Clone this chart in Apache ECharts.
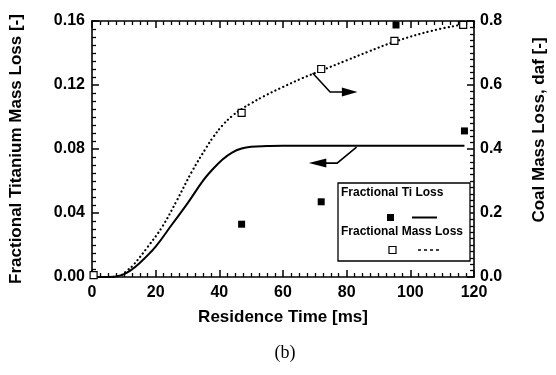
<!DOCTYPE html>
<html><head><meta charset="utf-8">
<script src="https://cdn.jsdelivr.net/npm/echarts@6/dist/echarts.min.js"></script>
<style>html,body{margin:0;padding:0;background:#fff}#c{width:556px;height:375px}</style>
</head><body><div id="c"></div>
<script>
// ---- data ----
const modelTime = [0, 5, 9, 12, 15, 20, 25, 30, 35, 38, 41, 44, 47, 50, 55, 60, 80, 100, 117];
const tiModel   = [0, 0, 0.001, 0.004, 0.0088, 0.019, 0.0325, 0.046, 0.0605, 0.0675, 0.0735, 0.0778, 0.0803, 0.0814, 0.0818, 0.082, 0.082, 0.082, 0.082];
const massTime  = [0, 5, 9, 11, 13, 17.5, 22, 26.7, 31.3, 36, 38, 41, 44, 47, 50, 54, 60, 66, 72, 80, 86.5, 95, 107, 117];
const massModel = [0, 0, 0.005, 0.02, 0.0375, 0.094, 0.156, 0.24, 0.328, 0.406, 0.436, 0.474, 0.503, 0.525, 0.543, 0.565, 0.594, 0.621, 0.645, 0.677, 0.703, 0.735, 0.77, 0.79];
const tiExpTime   = [47, 72, 95.5, 117];
const tiExp       = [0.033, 0.047, 0.1575, 0.0913];
const massExpTime = [0.5, 47, 72, 95, 116.6];
const massExp     = [0.006, 0.513, 0.65, 0.738, 0.788];
const xTicks = [0, 20, 40, 60, 80, 100, 120];
const leftTicks = [0, 0.04, 0.08, 0.12, 0.16];
const rightTicks = [0, 0.2, 0.4, 0.6, 0.8];
// annotation arrows (data units: time, left axis value)
const arrowMass = [[69.3, 0.1275], [74.8, 0.1156], [78.8, 0.1156]];
const arrowMassTip = [83.4, 0.1156];
const arrowTi = [[83.1, 0.0812], [77.0, 0.0712], [73.3, 0.0712]];
const arrowTiTip = [68.1, 0.0712];

const zip = (a, b) => a.map((v, i) => [v, b[i]]);
const FONT = '"Liberation Sans", Arial, sans-serif';
const chart = echarts.init(document.getElementById('c'), null, {renderer: 'canvas'});
const axisLine = {show: true, onZero: false, lineStyle: {color: '#000', width: 1.6}};
const tickLab = {color: '#000', fontFamily: FONT, fontWeight: 'bold', fontSize: 16};
const titleSt = {color: '#000', fontFamily: FONT, fontWeight: 'bold', fontSize: 17};
const majTick = {inside: true, length: 7, lineStyle: {color: '#000', width: 1.5}};
const minTick = n => ({show: true, splitNumber: n, length: 4, lineStyle: {color: '#000', width: 1.3}});

chart.setOption({
  animation: false,
  grid: {left: 91, right: 74, top: 21, bottom: 98},
  xAxis: [{
    type: 'value', min: xTicks[0], max: xTicks[xTicks.length - 1], interval: 20,
    name: 'Residence Time [ms]', nameLocation: 'middle', nameGap: 32, nameTextStyle: titleSt,
    axisLine: axisLine, axisTick: majTick, minorTick: minTick(8),
    axisLabel: Object.assign({margin: 8}, tickLab),
    splitLine: {show: false}
  }, {
    type: 'value', position: 'top', min: xTicks[0], max: xTicks[xTicks.length - 1], interval: 20,
    axisLine: axisLine, axisTick: majTick, minorTick: minTick(8),
    axisLabel: {show: false}, splitLine: {show: false}
  }],
  yAxis: [{
    type: 'value', min: leftTicks[0], max: leftTicks[leftTicks.length - 1], interval: 0.04,
    name: 'Fractional Titanium Mass Loss [-]', nameLocation: 'middle', nameGap: 67, nameRotate: 90,
    nameTextStyle: titleSt,
    axisLine: axisLine, axisTick: majTick, minorTick: minTick(8),
    axisLabel: Object.assign({margin: 7, formatter: v => v.toFixed(2)}, tickLab),
    splitLine: {show: false}
  }, {
    type: 'value', position: 'right', min: rightTicks[0], max: rightTicks[rightTicks.length - 1], interval: 0.2,
    name: 'Coal Mass Loss, daf [-]', nameLocation: 'middle', nameGap: 57, nameRotate: 90,
    nameTextStyle: Object.assign({padding: [0, 0, 0, 38]}, titleSt),
    axisLine: axisLine, axisTick: majTick, minorTick: minTick(10),
    axisLabel: Object.assign({margin: 6, formatter: v => v.toFixed(1)}, tickLab),
    splitLine: {show: false}
  }],
  series: [{
    name: 'Fractional Ti Loss model', type: 'line', yAxisIndex: 0, smooth: 0.4, showSymbol: false,
    data: zip(modelTime, tiModel), lineStyle: {color: '#000', width: 2}, z: 3
  }, {
    name: 'Fractional Mass Loss model', type: 'line', yAxisIndex: 1, smooth: 0.4, showSymbol: false,
    data: zip(massTime, massModel), lineStyle: {color: '#000', width: 2.2, type: [0.1, 4.2], cap: 'round'}, z: 3
  }, {
    name: 'Fractional Ti Loss', type: 'scatter', yAxisIndex: 0, symbol: 'rect', symbolSize: 7,
    data: zip(tiExpTime, tiExp), itemStyle: {color: '#000', opacity: 1}, z: 5
  }, {
    name: 'Fractional Mass Loss', type: 'scatter', yAxisIndex: 1, symbol: 'rect', symbolSize: 7,
    data: zip(massExpTime, massExp), itemStyle: {color: '#fff', borderColor: '#000', borderWidth: 1.2, opacity: 1}, z: 5
  }]
});

function arrow(pts, tip) {
  const p = pts.map(d => chart.convertToPixel({xAxisIndex: 0, yAxisIndex: 0}, d));
  const t = chart.convertToPixel({xAxisIndex: 0, yAxisIndex: 0}, tip);
  const last = p[p.length - 1];
  const dir = Math.sign(t[0] - last[0]);
  return [
    {type: 'polyline', shape: {points: p}, style: {stroke: '#000', lineWidth: 1.6, fill: null}, z: 10},
    {type: 'polygon', shape: {points: [[last[0] - dir * 1, last[1] - 4.5], [t[0], t[1]], [last[0] - dir * 1, last[1] + 4.5]]},
     style: {fill: '#000'}, z: 10}
  ];
}
const legendX = 338, legendY = 183;
const legendEls = [
  {type: 'rect', shape: {x: legendX, y: legendY, width: 132, height: 78}, style: {fill: '#fff', stroke: '#000', lineWidth: 1.3}, z: 20},
  {type: 'text', x: legendX + 3, y: legendY + 10, style: {text: 'Fractional Ti Loss', fill: '#000', font: 'bold 12px ' + FONT, textVerticalAlign: 'middle'}, z: 21},
  {type: 'rect', shape: {x: legendX + 49, y: legendY + 31, width: 7, height: 7}, style: {fill: '#000'}, z: 21},
  {type: 'line', shape: {x1: legendX + 74, y1: legendY + 34.5, x2: legendX + 99, y2: legendY + 34.5}, style: {stroke: '#000', lineWidth: 2}, z: 21},
  {type: 'text', x: legendX + 3, y: legendY + 49, style: {text: 'Fractional Mass Loss', fill: '#000', font: 'bold 12px ' + FONT, textVerticalAlign: 'middle'}, z: 21},
  {type: 'rect', shape: {x: legendX + 51, y: legendY + 63.5, width: 7, height: 7}, style: {fill: '#fff', stroke: '#000', lineWidth: 1.2}, z: 21},
  {type: 'line', shape: {x1: legendX + 80, y1: legendY + 67, x2: legendX + 102, y2: legendY + 67}, style: {stroke: '#000', lineWidth: 1.5, lineDash: [3, 3]}, z: 21}
];
chart.setOption({
  graphic: [].concat(
    arrow(arrowMass, arrowMassTip),
    arrow(arrowTi, arrowTiTip),
    legendEls,
    [{type: 'text', x: 285, y: 353, style: {text: '(b)', fill: '#000', font: '18px "Liberation Serif", "Times New Roman", serif', textAlign: 'center', textVerticalAlign: 'middle'}, z: 21}]
  )
});
</script>
</body></html>
